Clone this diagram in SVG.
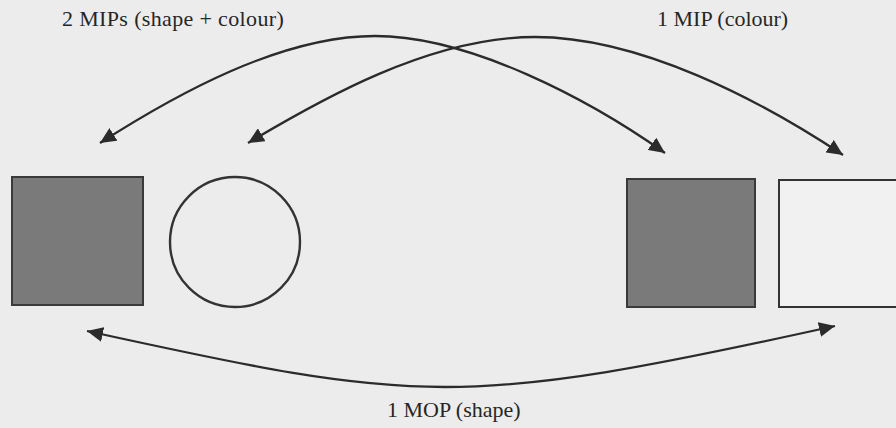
<svg xmlns="http://www.w3.org/2000/svg" width="896" height="428" viewBox="0 0 896 428">
<style>
.lbl{font-family:"Liberation Serif","Times New Roman",serif;font-size:22px;fill:#262626}
.con{fill:none;stroke:#2b2b2b;stroke-width:2.3;marker-start:url(#ah);marker-end:url(#ah)}
.grey{fill:#7a7a7a;stroke:#3a3a3a;stroke-width:2}
.white{fill:#f1f1f1;stroke:#333;stroke-width:2}
.ring{fill:none;stroke:#333;stroke-width:2.4}
</style>
<defs>
<marker id="ah" markerUnits="userSpaceOnUse" markerWidth="17" markerHeight="15" refX="16" refY="7.5" orient="auto-start-reverse">
<path d="M0,0 L16,7.5 L0,15 z" fill="#2b2b2b"/>
</marker>
</defs>
<rect x="0" y="0" width="896" height="428" fill="#ececec"/>
<g id="node-grey-square-left"><rect class="grey" x="12" y="177" width="131" height="128"/></g>
<g id="node-circle"><circle class="ring" cx="235" cy="242" r="65"/></g>
<g id="node-grey-square-right"><rect class="grey" x="627" y="179" width="128" height="128"/></g>
<g id="node-white-square"><rect class="white" x="779" y="180" width="130" height="127"/></g>
<g id="connectors">
<path class="con" d="M100,143 C175,95 280,36 375,36 C470,36 590,100 665,153"/>
<path class="con" d="M248,143 C320,100 430,37 535,37 C640,37 760,100 843,155"/>
<path class="con" d="M87,331 C420,404 459,409 835,326"/>
</g>
<g id="labels">
<text class="lbl" x="62" y="26" letter-spacing="0.35">2 MIPs (shape + colour)</text>
<text class="lbl" x="657" y="26">1 MIP (colour)</text>
<text class="lbl" x="387" y="417">1 MOP (shape)</text>
</g>
</svg>
